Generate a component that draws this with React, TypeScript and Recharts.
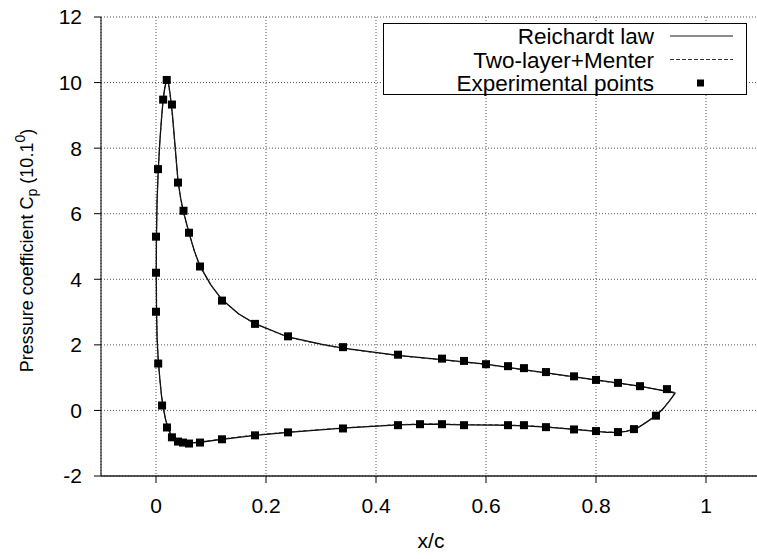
import React from 'react';
import {
  ComposedChart,
  Line,
  Scatter,
  XAxis,
  YAxis,
  CartesianGrid,
  Legend,
} from 'recharts';

// Pressure distribution around the airfoil at 10.1 degrees incidence.
// Curves run from the trailing edge along the lower surface, round the
// leading edge and back along the upper surface.
const reichardtX = [
  0.944, 0.934, 0.922, 0.909, 0.89, 0.878, 0.869, 0.855, 0.84, 0.82, 0.8, 0.76,
  0.71, 0.67, 0.62, 0.56, 0.5, 0.44, 0.34, 0.24, 0.18, 0.12, 0.08, 0.06, 0.045,
  0.035, 0.028, 0.022, 0.017, 0.013, 0.01, 0.007, 0.004, 0.002, 0.001, 0.0005,
  0.0008, 0.002, 0.004, 0.007, 0.01, 0.013, 0.016, 0.019, 0.021, 0.023, 0.026,
  0.03, 0.035, 0.04, 0.045, 0.05, 0.06, 0.07, 0.08, 0.1, 0.12, 0.15, 0.18, 0.24,
  0.3, 0.34, 0.44, 0.52, 0.6, 0.7, 0.8, 0.88, 0.944,
];
const reichardtY = [
  0.53, 0.3, 0.05, -0.16, -0.38, -0.51, -0.58, -0.64, -0.67, -0.67, -0.64, -0.58,
  -0.51, -0.47, -0.45, -0.44, -0.42, -0.44, -0.54, -0.67, -0.76, -0.88, -0.97,
  -1.0, -0.97, -0.9, -0.78, -0.55, -0.25, 0.1, 0.45, 0.95, 1.55, 2.2, 3.0, 4.2,
  5.3, 6.4, 7.3, 8.2, 8.9, 9.5, 9.85, 10.05, 10.08, 9.95, 9.6, 9.0, 8.0, 7.0,
  6.45, 6.05, 5.42, 4.85, 4.4, 3.82, 3.38, 2.95, 2.65, 2.24, 2.02, 1.9, 1.68,
  1.55, 1.41, 1.17, 0.93, 0.74, 0.53,
];

const menterX = [
  0.944, 0.934, 0.922, 0.909, 0.89, 0.878, 0.869, 0.855, 0.84, 0.82, 0.8, 0.76,
  0.71, 0.67, 0.62, 0.56, 0.5, 0.44, 0.34, 0.24, 0.18, 0.12, 0.08, 0.06, 0.045,
  0.035, 0.028, 0.022, 0.017, 0.013, 0.01, 0.007, 0.004, 0.002, 0.001, 0.0005,
  0.0008, 0.002, 0.004, 0.007, 0.01, 0.013, 0.016, 0.019, 0.021, 0.023, 0.026,
  0.03, 0.035, 0.04, 0.045, 0.05, 0.06, 0.07, 0.08, 0.1, 0.12, 0.15, 0.18, 0.24,
  0.3, 0.34, 0.44, 0.52, 0.6, 0.7, 0.8, 0.88, 0.944,
];
const menterY = [
  0.55, 0.31, 0.06, -0.15, -0.37, -0.5, -0.57, -0.63, -0.66, -0.66, -0.63,
  -0.57, -0.5, -0.46, -0.44, -0.43, -0.41, -0.43, -0.53, -0.66, -0.75, -0.87,
  -0.96, -0.99, -0.96, -0.89, -0.77, -0.54, -0.24, 0.11, 0.46, 0.96, 1.56, 2.2,
  3.0, 4.2, 5.3, 6.4, 7.3, 8.2, 8.88, 9.47, 9.82, 10.02, 10.05, 9.92, 9.57,
  8.97, 7.98, 6.98, 6.43, 6.03, 5.41, 4.84, 4.39, 3.81, 3.37, 2.94, 2.64, 2.23,
  2.01, 1.89, 1.67, 1.54, 1.4, 1.16, 0.92, 0.73, 0.55,
];

const expX = [
  0.909, 0.869, 0.84, 0.8, 0.76, 0.709, 0.669, 0.64, 0.56, 0.52, 0.48, 0.44,
  0.34, 0.24, 0.18, 0.12, 0.08, 0.06, 0.049, 0.04, 0.029, 0.02, 0.011, 0.004, 0,
  0, 0, 0.0036, 0.013, 0.0195, 0.029, 0.04, 0.05, 0.06, 0.08, 0.12, 0.18, 0.24,
  0.34, 0.44, 0.52, 0.56, 0.6, 0.64, 0.669, 0.709, 0.76, 0.8, 0.84, 0.88, 0.929,
];
const expY = [
  -0.16, -0.57, -0.66, -0.63, -0.58, -0.51, -0.45, -0.45, -0.45, -0.42, -0.42,
  -0.45, -0.55, -0.67, -0.76, -0.88, -0.98, -1.01, -0.98, -0.95, -0.82, -0.52,
  0.15, 1.43, 3.01, 4.2, 5.3, 7.36, 9.48, 10.08, 9.33, 6.95, 6.09, 5.42, 4.39,
  3.35, 2.64, 2.26, 1.93, 1.7, 1.58, 1.51, 1.41, 1.35, 1.29, 1.17, 1.04, 0.93,
  0.84, 0.74, 0.65,
];

const xTicks = [0, 0.2, 0.4, 0.6, 0.8, 1];
const yTicks = [-2, 0, 2, 4, 6, 8, 10, 12];
const seriesNames = ['Reichardt law', 'Two-layer+Menter', 'Experimental points'];

const zip = (xs: number[], ys: number[]) => xs.map((x, i) => ({ x, y: ys[i] }));
const reichardtData = zip(reichardtX, reichardtY);
const menterData = zip(menterX, menterY);
const expData = zip(expX, expY);

const FONT = '"Liberation Sans", Arial, Helvetica, sans-serif';
const tickStyle = { fontSize: 21, fill: '#000', fontFamily: FONT };

const SquareDot = (props: any) => {
  const { cx, cy } = props;
  if (cx == null || cy == null) return null;
  return <rect x={cx - 4} y={cy - 4} width={8} height={8} fill="#000" />;
};

const YTitle = (props: any) => {
  const vb = props.viewBox || { x: 0, y: 0, width: 0, height: 0 };
  const cx = vb.x - 14;
  const cy = vb.y + vb.height / 2 + 4;
  return (
    <text
      x={cx}
      y={cy}
      transform={`rotate(-90, ${cx}, ${cy})`}
      textAnchor="middle"
      dominantBaseline="central"
      fontSize={18}
      fontFamily={FONT}
      fill="#000"
    >
      Pressure coefficient C
      <tspan dy={5} fontSize={14}>p</tspan>
      <tspan dy={-5}> (10.1</tspan>
      <tspan dy={-7} fontSize={14}>0</tspan>
      <tspan dy={7}>)</tspan>
    </text>
  );
};

const XTitle = (props: any) => {
  const vb = props.viewBox || { x: 0, y: 0, width: 0, height: 0 };
  return (
    <text
      x={vb.x + vb.width / 2}
      y={vb.y + 64}
      textAnchor="middle"
      dominantBaseline="central"
      fontSize={21}
      fontFamily={FONT}
      fill="#000"
    >
      x/c
    </text>
  );
};

const KeyBox = () => (
  <div
    style={{
      width: 362,
      height: 70,
      border: '1px solid #000',
      background: '#fff',
    }}
  >
    <svg width={362} height={70} style={{ display: 'block', overflow: 'visible' }}>
      {seriesNames.map((name, i) => {
        const cy = 12 + i * 23.5;
        return (
          <g key={name}>
            <text
              x={270}
              y={cy + 8}
              textAnchor="end"
              fontSize={22.5}
              fontFamily={FONT}
              fill="#000"
            >
              {name}
            </text>
            {i === 0 && (
              <line x1={286} x2={349} y1={cy} y2={cy} stroke="#666" strokeWidth={1.5} />
            )}
            {i === 1 && (
              <line
                x1={286}
                x2={349}
                y1={cy}
                y2={cy}
                stroke="#333"
                strokeWidth={1}
                strokeDasharray="4 2"
              />
            )}
            {i === 2 && <rect x={313} y={cy - 3.5} width={7} height={7} fill="#000" />}
          </g>
        );
      })}
    </svg>
  </div>
);

export default function App() {
  return (
    <div
      style={{
        position: 'fixed',
        left: 0,
        top: 0,
        width: 757,
        height: 559,
        overflow: 'hidden',
        background: '#fff',
      }}
    >
      <ComposedChart
        width={800}
        height={559}
        margin={{ top: 17, right: 39, left: 41, bottom: 23 }}
      >
        <CartesianGrid stroke="#555" strokeDasharray="1 2" />
        <XAxis
          type="number"
          dataKey="x"
          domain={[-0.1, 1.1]}
          ticks={xTicks}
          allowDataOverflow
          height={60}
          tickSize={7}
          tickMargin={15}
          tick={tickStyle}
          axisLine={{ stroke: '#222', strokeWidth: 1.5 }}
          tickLine={{ stroke: '#000' }}
          label={<XTitle />}
        />
        <XAxis
          xAxisId="top"
          orientation="top"
          type="number"
          dataKey="x"
          domain={[-0.1, 1.1]}
          ticks={xTicks}
          allowDataOverflow
          height={0}
          tickSize={7}
          tickFormatter={() => ''}
          axisLine={{ stroke: '#000' }}
          tickLine={{ stroke: '#000' }}
        />
        <YAxis
          type="number"
          domain={[-2, 12]}
          ticks={yTicks}
          allowDataOverflow
          width={60}
          tickSize={7}
          tickMargin={12}
          tick={tickStyle}
          axisLine={{ stroke: '#000' }}
          tickLine={{ stroke: '#000' }}
          label={<YTitle />}
        />
        <Legend
          layout="vertical"
          align="center"
          verticalAlign="middle"
          content={() => <KeyBox />}
          wrapperStyle={{ left: 383, top: 23, width: 364, height: 72 }}
        />
        <Line
          data={reichardtData}
          dataKey="y"
          type="linear"
          stroke="#000"
          strokeWidth={1.3}
          dot={false}
          activeDot={false}
          isAnimationActive={false}
          name={seriesNames[0]}
        />
        <Line
          data={menterData}
          dataKey="y"
          type="linear"
          stroke="#222"
          strokeWidth={1}
          strokeDasharray="4 2"
          dot={false}
          activeDot={false}
          isAnimationActive={false}
          name={seriesNames[1]}
        />
        <Scatter
          data={expData}
          dataKey="y"
          shape={<SquareDot />}
          isAnimationActive={false}
          name={seriesNames[2]}
        />
      </ComposedChart>
    </div>
  );
}
